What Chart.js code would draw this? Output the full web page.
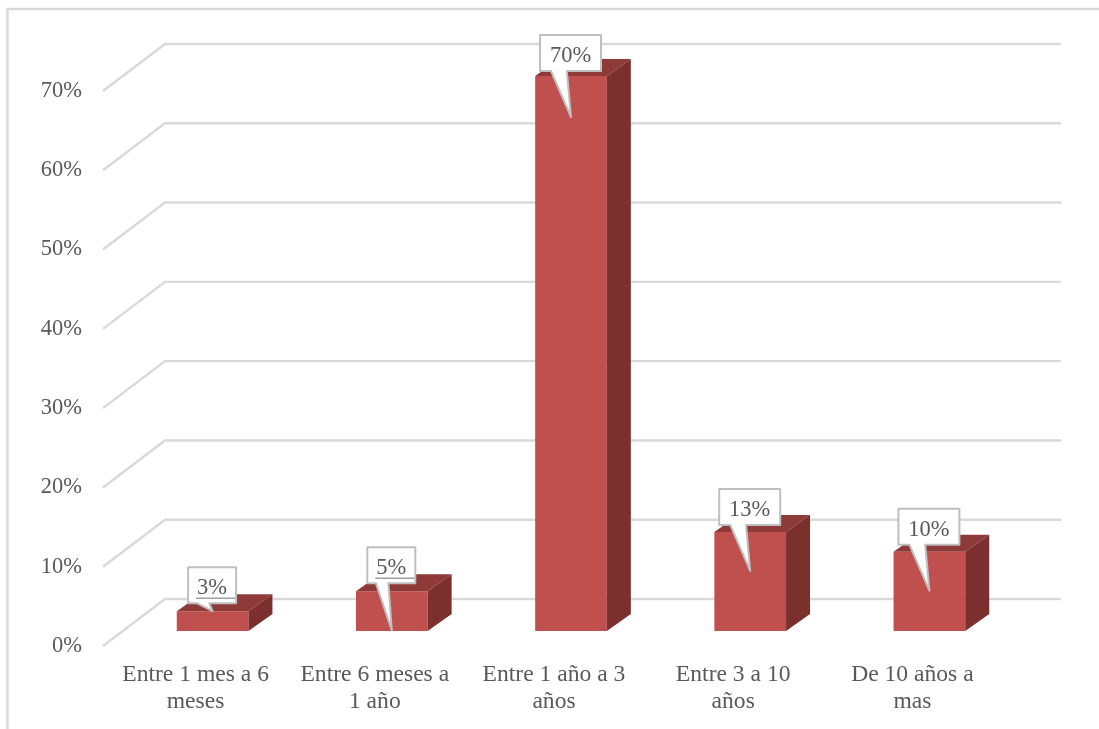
<!DOCTYPE html>
<html>
<head>
<meta charset="utf-8">
<script src="https://cdn.jsdelivr.net/npm/chart.js@4"></script>
<style>
  html, body { margin: 0; padding: 0; background: #fff; overflow: hidden; }
  canvas { display: block; }
</style>
</head>
<body>
<canvas id="myChart" width="1099" height="729"></canvas>
<script>
const categories = [
  ["Entre 1 mes a 6", "meses"],
  ["Entre 6 meses a", "1 año"],
  ["Entre 1 año a 3", "años"],
  ["Entre 3 a 10", "años"],
  ["De 10 años a", "mas"],
];
const percentValues = [2.5, 5, 70, 12.5, 10];
const valueLabels = ["3%", "5%", "70%", "13%", "10%"];

const serifFont = '"Liberation Serif", "Times New Roman", serif';
const textColor = "#595959";
const gridColor = "#d9d9d9";

// fake 3d: how far the bar depth and the floor reach from the bar plane
const barDepth = { x: 24, y: -17 };
const wallBack = { x: 42, y: -32 };
const floorFront = { x: -20, y: 15 };
const wallEnd = 1061;

// callout tips, px below the top of the bar
const tipDrop = [0, 39, 41, 39, 39];
const boxGap = [8, 8, 5, 7, 7];
const underlined = [true, true, false, false, false];

// back wall lines and the diagonals on the left side
const wallGrid = {
  id: "wallGrid",
  beforeDatasetsDraw(chart) {
    const { ctx, scales } = chart;
    const left = scales.x.left;
    ctx.save();
    ctx.strokeStyle = gridColor;
    ctx.lineWidth = 2.4;
    scales.y.ticks.forEach((tick) => {
      const py = scales.y.getPixelForValue(tick.value);
      ctx.beginPath();
      ctx.moveTo(left + floorFront.x, py + floorFront.y);
      ctx.lineTo(left + wallBack.x, py + wallBack.y);
      ctx.lineTo(wallEnd, py + wallBack.y);
      ctx.stroke();
    });
    // frame of the chart, cut by the page on the right and bottom
    ctx.beginPath();
    ctx.moveTo(7.5, chart.height);
    ctx.lineTo(7.5, 9);
    ctx.lineTo(chart.width, 9);
    ctx.stroke();
    ctx.restore();
  },
};

const barSides = {
  id: "barSides",
  afterDatasetsDraw(chart) {
    const { ctx } = chart;
    const bars = chart.getDatasetMeta(0).data;
    ctx.save();
    bars.forEach((bar) => {
      const l = bar.x - bar.width / 2;
      const r = bar.x + bar.width / 2;
      // top
      ctx.fillStyle = "#8e3a38";
      ctx.beginPath();
      ctx.moveTo(l, bar.y);
      ctx.lineTo(l + barDepth.x, bar.y + barDepth.y);
      ctx.lineTo(r + barDepth.x, bar.y + barDepth.y);
      ctx.lineTo(r, bar.y);
      ctx.closePath();
      ctx.fill();
      // right side
      ctx.fillStyle = "#7b302e";
      ctx.beginPath();
      ctx.moveTo(r, bar.y);
      ctx.lineTo(r + barDepth.x, bar.y + barDepth.y);
      ctx.lineTo(r + barDepth.x, bar.base + barDepth.y);
      ctx.lineTo(r, bar.base);
      ctx.closePath();
      ctx.fill();
    });
    ctx.restore();
  },
};

const callouts = {
  id: "callouts",
  afterDraw(chart) {
    const { ctx } = chart;
    const bars = chart.getDatasetMeta(0).data;
    ctx.save();
    ctx.font = "22.5px " + serifFont;
    ctx.textAlign = "center";
    ctx.textBaseline = "middle";
    ctx.lineJoin = "round";
    bars.forEach((bar, i) => {
      const w = valueLabels[i].length > 2 ? 61 : 48;
      const h = 36;
      const cx = bar.x - 0.5;
      const bottom = bar.y - boxGap[i];
      const l = cx - w / 2;
      const r = cx + w / 2;
      const top = bottom - h;
      const tipX = bar.x;
      const tipY = bar.y + tipDrop[i];

      ctx.beginPath();
      ctx.moveTo(l, top);
      ctx.lineTo(r, top);
      ctx.lineTo(r, bottom);
      ctx.lineTo(l + w * 0.44, bottom);
      ctx.lineTo(tipX, tipY);
      ctx.lineTo(l + w * 0.18, bottom);
      ctx.lineTo(l, bottom);
      ctx.closePath();
      ctx.fillStyle = "#ffffff";
      ctx.fill();
      ctx.strokeStyle = "#bfbfbf";
      ctx.lineWidth = 2;
      ctx.stroke();

      ctx.fillStyle = textColor;
      ctx.fillText(valueLabels[i], cx, top + 21);
      if (underlined[i]) {
        ctx.strokeStyle = "#a0a0a0";
        ctx.lineWidth = 1.5;
        ctx.beginPath();
        ctx.moveTo(l + 8, bottom - 5);
        ctx.lineTo(r - 1, bottom - 5);
        ctx.stroke();
      }
    });
    ctx.restore();
  },
};

const ctx = document.getElementById("myChart").getContext("2d");
const myChart = new Chart(ctx, {
  type: "bar",
  data: {
    labels: categories,
    datasets: [
      {
        data: percentValues,
        backgroundColor: "#c0504d",
        borderWidth: 0,
        barPercentage: 0.4,
        categoryPercentage: 1,
      },
    ],
  },
  options: {
    responsive: false,
    animation: false,
    layout: { padding: { top: 76, right: 80, left: 0, bottom: 0 } },
    plugins: {
      legend: { display: false },
      title: { display: false },
      tooltip: { enabled: false },
    },
    scales: {
      x: {
        grid: { display: false, drawTicks: false },
        border: { display: false },
        afterFit(scale) {
          scale.height = 98;
        },
        ticks: {
          autoSkip: false,
          maxRotation: 0,
          minRotation: 0,
          padding: 30,
          labelOffset: -17,
          color: textColor,
          font: { family: serifFont, size: 23.6, lineHeight: 1.15 },
        },
      },
      y: {
        min: 0,
        max: 70,
        grid: { display: false, drawTicks: false },
        border: { display: false },
        afterFit(scale) {
          scale.width = 123;
        },
        ticks: {
          stepSize: 10,
          padding: 41,
          labelOffset: 15,
          color: textColor,
          font: { family: serifFont, size: 22.5 },
          callback: (v) => v + "%",
        },
      },
    },
  },
  plugins: [wallGrid, barSides, callouts],
});
</script>
</body>
</html>
